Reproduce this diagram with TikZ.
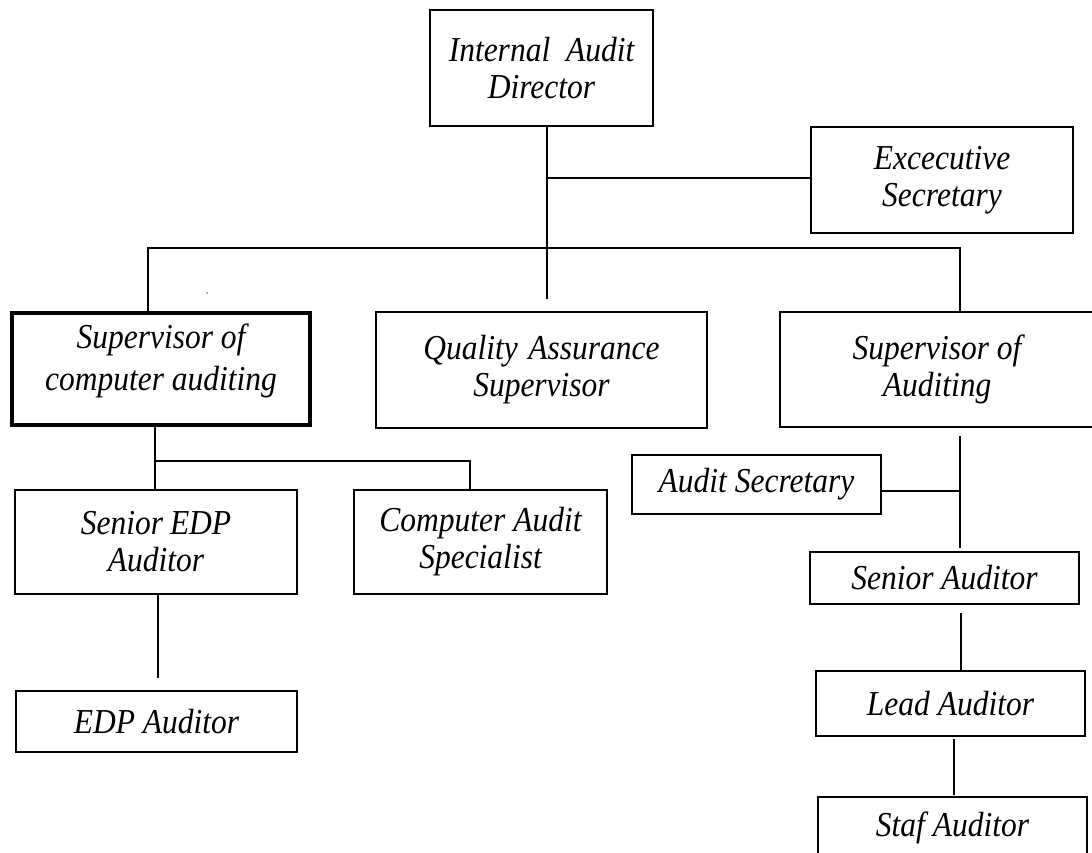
\documentclass[tikz,border=0pt]{standalone}
\usepackage{fontspec}
\setmainfont[FakeStretch=0.9]{Liberation Serif}
\begin{document}
\begin{tikzpicture}[x=1pt,y=-1pt,
  box/.style={draw=black, line width=2.5pt, rectangle, inner sep=0pt, outer sep=0pt,
    align=center, font=\fontsize{35}{37}\selectfont\itshape},
  heavybox/.style={box, line width=3.8pt},
  link/.style={draw=black, line width=1.9pt}]
\useasboundingbox (0,0) rectangle (1092,853);

% boxes
\node[box, minimum width=223pt, minimum height=116pt] (dir) at (541.5,68) {Internal\hspace{0.45em}Audit\\Director};
\node[box, minimum width=262pt, minimum height=106pt] (exec) at (942,180) {Excecutive\\Secretary};
\node[heavybox, minimum width=298pt, minimum height=112pt] (supcomp) at (161,369) {Supervisor of\\[5pt]computer auditing\\[-13pt]};
\node[box, minimum width=331pt, minimum height=116pt] (qa) at (541.5,370) {Quality\hspace{0.3em}Assurance\\Supervisor};
\node[box, minimum width=314pt, minimum height=115pt] (supaud) at (937,369.5) {Supervisor of\\Auditing};
\node[box, minimum width=249pt, minimum height=59pt] (asec) at (756.5,484.5) {Audit Secretary};
\node[box, minimum width=269pt, minimum height=52pt] (sena) at (944.5,578) {Senior Auditor};
\node[box, minimum width=269pt, minimum height=65pt] (lead) at (950.5,703.5) {Lead Auditor};
\node[box, minimum width=269pt, minimum height=61pt] (staf) at (952.5,827.5) {Staf Auditor};
\node[box, minimum width=282pt, minimum height=104pt] (sedp) at (156,542) {Senior\hspace{0.2em}EDP\\Auditor};
\node[box, minimum width=253pt, minimum height=104pt] (cas) at (480.5,542) {Computer Audit\\Specialist};
\node[box, minimum width=281pt, minimum height=61pt] (edp) at (156.5,721.5) {EDP Auditor};

% junctions and free ends
\coordinate (qaend) at (547,299);
\coordinate (exj) at (547,178);
\coordinate (busL) at (148,248);
\coordinate (busR) at (960,248);
\coordinate (cj) at (155,461);
\coordinate (casj) at (470,461);
\coordinate (edpend) at (158,678);
\coordinate (audtop) at (960,436);
\coordinate (audbot) at (960,548);
\coordinate (asj) at (960,491);
\coordinate (s1) at (961,613);
\coordinate (l1) at (954,739);
\coordinate (l2) at (954,795);

% director branch
\draw[link] (dir.south -| qaend) -- (qaend);
\draw[link] (exj) -- (exj -| exec.west);
\draw[link] (supcomp.north -| busL) -- (busL) -- (busR) -- (supaud.north -| busR);

% computer auditing branch
\draw[link] (supcomp.south -| cj) -- (sedp.north -| cj);
\draw[link] (cj) -- (casj) -- (cas.north -| casj);
\draw[link] (sedp.south -| edpend) -- (edpend);

% auditing branch
\draw[link] (audtop) -- (audbot);
\draw[link] (asec.east |- asj) -- (asj);
\draw[link] (s1) -- (lead.north -| s1);
\draw[link] (l1) -- (l2);

% stray mark
\fill[blue!45!gray] (207,293) circle (0.9pt);
\end{tikzpicture}
\end{document}
